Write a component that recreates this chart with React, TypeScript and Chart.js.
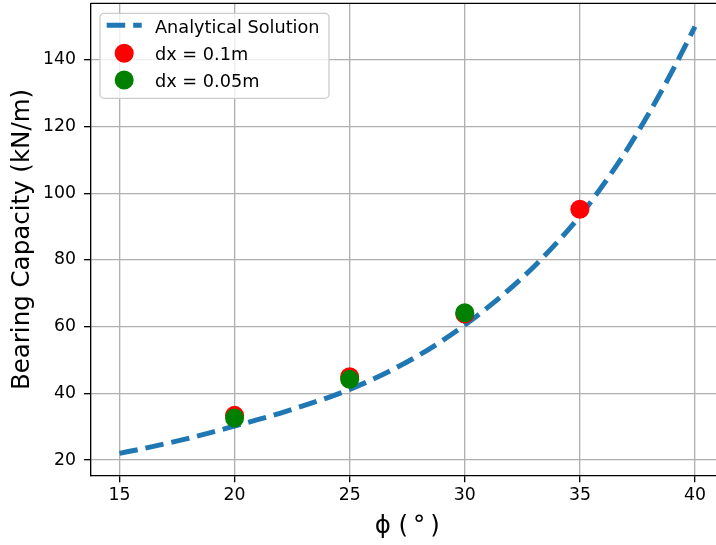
import React, { useEffect, useRef } from "react";
import { Chart, registerables } from "chart.js";

Chart.register(...registerables);

// ---- data ----
const phiCurve = [15, 16, 17, 18, 19, 20, 21, 22, 23, 24, 25, 26, 27, 28, 29, 30, 31, 32, 33, 34, 35, 36, 37, 38, 39, 40];
const qAnalytical = [22.0, 23.4, 24.9, 26.5, 28.3, 30.2, 32.1, 34.1, 36.3, 38.6, 41.2, 44.2, 47.6, 51.4, 55.7, 60.5, 65.8, 71.6, 78.0, 85.2, 93.2, 102.4, 112.6, 124.0, 136.5, 150.0];

const phiDx01 = [20, 25, 30, 35];
const qDx01 = [33.4, 45.0, 63.8, 95.2];

const phiDx005 = [20, 25, 30];
const qDx005 = [32.6, 44.2, 64.2];

const seriesLabels = ["Analytical Solution", "dx = 0.1m", "dx = 0.05m"];
const xTicks = [15, 20, 25, 30, 35, 40];
const yTicks = [20, 40, 60, 80, 100, 120, 140];
const xLimits = [13.75, 41.25];
const yLimits = [15.3, 157.0];
const xTitle = "ϕ (\u2009°\u2009)";
const yTitle = "Bearing Capacity (kN/m)";

const FONT = "'DejaVu Sans', 'Liberation Sans', sans-serif";

const legendPlugin = {
  id: "mplLegend",
  afterDraw(chart: any) {
    const ctx = chart.ctx as CanvasRenderingContext2D;
    const area = chart.chartArea;
    const x0 = area.left + 9.3;
    const y0 = area.top + 10;
    const w = 229;
    const h = 85;
    const r = 4;
    ctx.save();
    ctx.beginPath();
    ctx.moveTo(x0 + r, y0);
    ctx.lineTo(x0 + w - r, y0);
    ctx.arcTo(x0 + w, y0, x0 + w, y0 + r, r);
    ctx.lineTo(x0 + w, y0 + h - r);
    ctx.arcTo(x0 + w, y0 + h, x0 + w - r, y0 + h, r);
    ctx.lineTo(x0 + r, y0 + h);
    ctx.arcTo(x0, y0 + h, x0, y0 + h - r, r);
    ctx.lineTo(x0, y0 + r);
    ctx.arcTo(x0, y0, x0 + r, y0, r);
    ctx.closePath();
    ctx.fillStyle = "rgba(255,255,255,0.8)";
    ctx.fill();
    ctx.strokeStyle = "#cccccc";
    ctx.lineWidth = 1.3;
    ctx.stroke();

    const handleRows = [12, 40, 66.7];
    const textRows = [19.4, 46.7, 73.4];
    const hx0 = x0 + 6.7;
    const hx1 = x0 + 41.7;
    const hxc = (hx0 + hx1) / 2;
    chart.data.datasets.forEach((ds: any, i: number) => {
      const hy = y0 + handleRows[i];
      if (ds.showLine) {
        ctx.save();
        ctx.beginPath();
        ctx.setLineDash(ds.borderDash || []);
        ctx.lineCap = "butt";
        ctx.strokeStyle = ds.borderColor;
        ctx.lineWidth = ds.borderWidth;
        ctx.moveTo(hx0, hy);
        ctx.lineTo(hx1, hy);
        ctx.stroke();
        ctx.restore();
      } else {
        ctx.beginPath();
        ctx.arc(hxc, hy, ds.pointRadius, 0, Math.PI * 2);
        ctx.fillStyle = ds.backgroundColor;
        ctx.fill();
      }
      ctx.fillStyle = "#000";
      ctx.font = `17.7px ${FONT}`;
      ctx.textAlign = "left";
      ctx.textBaseline = "alphabetic";
      ctx.fillText(ds.label, x0 + 55, y0 + textRows[i]);
    });
    ctx.restore();
  },
};

const framePlugin = {
  id: "topSpine",
  afterDatasetsDraw(chart: any) {
    const ctx = chart.ctx as CanvasRenderingContext2D;
    const a = chart.chartArea;
    ctx.save();
    ctx.strokeStyle = "#000";
    ctx.lineWidth = 1.33;
    ctx.beginPath();
    ctx.moveTo(a.left, a.top);
    ctx.lineTo(a.right, a.top);
    ctx.lineTo(a.right, a.bottom);
    ctx.stroke();
    ctx.restore();
  },
};

export default function App() {
  const ref = useRef<HTMLCanvasElement | null>(null);

  useEffect(() => {
    if (!ref.current) return;
    const gridCommon = {
      color: "#b0b0b0",
      lineWidth: 1.33,
      tickColor: "#000",
      tickWidth: 1.33,
      tickLength: 6.6,
    };
    const chart = new Chart(ref.current, {
      type: "scatter",
      data: {
        datasets: [
          {
            label: seriesLabels[0],
            data: phiCurve.map((x, i) => ({ x, y: qAnalytical[i] })),
            showLine: true,
            borderColor: "#1f77b4",
            backgroundColor: "#1f77b4",
            borderWidth: 5,
            borderDash: [18.5, 8],
            borderCapStyle: "butt",
            pointRadius: 0,
            cubicInterpolationMode: "monotone",
            order: 3,
          },
          {
            label: seriesLabels[1],
            data: phiDx01.map((x, i) => ({ x, y: qDx01[i] })),
            showLine: false,
            backgroundColor: "#ff0000",
            borderColor: "#ff0000",
            borderWidth: 0,
            pointRadius: 9.5,
            order: 2,
          },
          {
            label: seriesLabels[2],
            data: phiDx005.map((x, i) => ({ x, y: qDx005[i] })),
            showLine: false,
            backgroundColor: "#008000",
            borderColor: "#008000",
            borderWidth: 0,
            pointRadius: 9.5,
            order: 1,
          },
        ],
      } as any,
      options: {
        animation: false,
        responsive: false,
        devicePixelRatio: 1,
        layout: { autoPadding: false, padding: { top: 3.3, left: 0, right: 0.25, bottom: 0 } },
        plugins: {
          legend: { display: false },
          tooltip: { enabled: false },
        },
        scales: {
          x: {
            type: "linear",
            position: "bottom",
            min: xLimits[0],
            max: xLimits[1],
            afterBuildTicks: (axis: any) => {
              axis.ticks = xTicks.map((v) => ({ value: v }));
            },
            afterFit: (axis: any) => {
              axis.height = 69.3;
              axis.paddingLeft = 0;
              axis.paddingRight = 0;
              axis.paddingTop = 0;
              axis.paddingBottom = 0;
            },
            ticks: {
              color: "#000",
              font: { family: FONT, size: 17.3 },
              padding: 3,
              maxRotation: 0,
              autoSkip: false,
            },
            grid: gridCommon,
            border: { color: "#000", width: 1.33 },
            title: {
              display: true,
              text: xTitle,
              color: "#000",
              font: { family: FONT, size: 24.5 },
              padding: { top: 0, bottom: 4 },
            },
          },
          y: {
            type: "linear",
            position: "left",
            min: yLimits[0],
            max: yLimits[1],
            afterBuildTicks: (axis: any) => {
              axis.ticks = yTicks.map((v) => ({ value: v }));
            },
            afterFit: (axis: any) => {
              axis.width = 90.7;
              axis.paddingLeft = 0;
              axis.paddingRight = 0;
              axis.paddingTop = 0;
              axis.paddingBottom = 0;
            },
            ticks: {
              color: "#000",
              font: { family: FONT, size: 17.3 },
              padding: 8,
              autoSkip: false,
            },
            grid: gridCommon,
            border: { color: "#000", width: 1.33 },
            title: {
              display: true,
              text: yTitle,
              color: "#000",
              font: { family: FONT, size: 24.5 },
              padding: { top: 8, bottom: 0 },
            },
          },
        },
      } as any,
      plugins: [framePlugin, legendPlugin],
    });
    return () => chart.destroy();
  }, []);

  return (
    <div
      style={{
        position: "fixed",
        left: 0,
        top: 0,
        width: 716,
        height: 545,
        overflow: "hidden",
        background: "#fff",
      }}
    >
      <canvas ref={ref} width={724} height={545} style={{ width: 724, height: 545, display: "block" }} />
    </div>
  );
}
